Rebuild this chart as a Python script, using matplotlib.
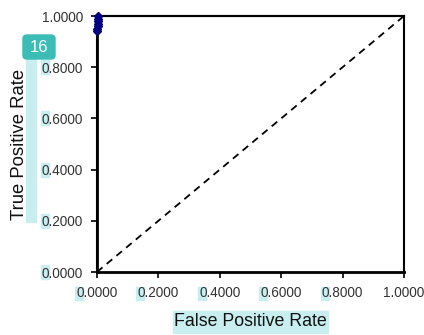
import matplotlib.pyplot as plt
from matplotlib.patches import Rectangle, FancyBboxPatch

# ROC points
fpr = [0.0, 0.0, 0.001, 0.002, 0.002, 0.003, 0.004, 0.004, 1.0]
tpr = [0.0, 0.94, 0.95, 0.96, 0.97, 0.98, 0.99, 1.0, 1.0]
ticks = [0.0, 0.2, 0.4, 0.6, 0.8, 1.0]
tick_labels = ["%.4f" % t for t in ticks]

W, H = 424, 335
fig = plt.figure(figsize=(W / 100, H / 100), dpi=100)
plt.rcParams['font.family'] = ['Liberation Sans', 'DejaVu Sans']

# light cyan highlight marks and badge
hl = '#c9eef0'
def px_rect(x0, y0, x1, y1, color):
    fig.patches.append(Rectangle((x0 / W, 1 - y1 / H), (x1 - x0) / W, (y1 - y0) / H,
                                 transform=fig.transFigure, color=color, zorder=-1))

px_rect(26, 58, 36, 222, hl)            # y label strip
px_rect(173, 311, 328, 333, hl)         # x label
for t in [0.0, 0.2, 0.4, 0.6, 0.8]:
    yc = 272 - 256 * t
    px_rect(41, yc - 7, 49, yc + 7, hl)
    xc = 97 + 307 * t
    px_rect(xc - 22, 287, xc - 14, 300, hl)

ax = fig.add_axes([97 / W, 63 / H, 307 / W, 256 / H])
ax.patch.set_alpha(0)
ax.plot([0, 1], [0, 1], color='black', linestyle=(0, (4, 3)), linewidth=1.3)
ax.plot(fpr, tpr, color='black', linewidth=1.5, clip_on=False, zorder=3)
ax.plot(fpr[1:-1], tpr[1:-1], linestyle='none', marker='D', markersize=4,
        color='#000080', clip_on=False, zorder=4)

ax.set_xlim(0, 1)
ax.set_ylim(0, 1)
ax.set_xticks(ticks)
ax.set_yticks(ticks)
ax.set_xticklabels(tick_labels, fontsize=9.8, color='#333333')
ax.set_yticklabels(tick_labels, fontsize=9.8, color='#333333')
ax.tick_params(direction='out', length=4, width=1.2, pad=6)
for s in ax.spines.values():
    s.set_linewidth(1.5)
ax.spines['left'].set_linewidth(2)
ax.spines['bottom'].set_linewidth(2)

fig.text(250 / W, 1 - 321 / H, "False Positive Rate", fontsize=12.8,
         ha='center', va='center', color='#111111')
fig.text(20 / W, 1 - 144 / H, "True Positive Rate", fontsize=13.3, rotation=90,
         ha='center', va='center', color='#111111')

badge = FancyBboxPatch((23 / W, 1 - 59 / H), 32 / W, 24 / H,
                       boxstyle="round,pad=0,rounding_size=0.01",
                       transform=fig.transFigure, color='#3bbdb6', zorder=5)
fig.patches.append(badge)
fig.text(39 / W, 1 - 47 / H, "16", fontsize=12, color='white',
         ha='center', va='center', zorder=6)

fig.savefig("out.png", dpi=100)
